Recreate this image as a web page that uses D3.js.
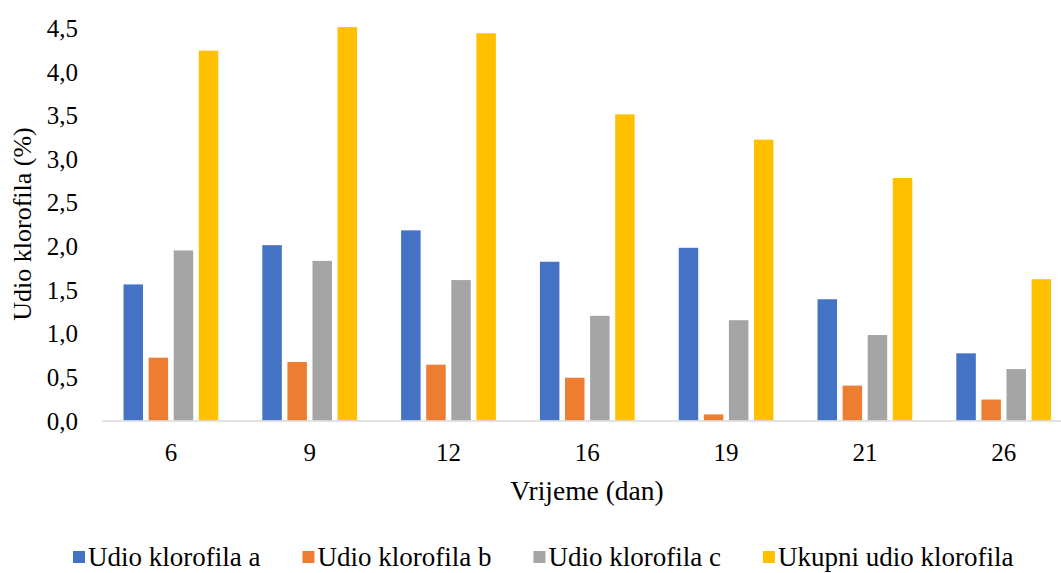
<!DOCTYPE html>
<html>
<head>
<meta charset="utf-8">
<script src="https://cdn.jsdelivr.net/npm/d3@7"></script>
<style>
  html, body { margin: 0; padding: 0; background: #fff; }
  svg { display: block; }
  text { font-family: "Liberation Serif", "Times New Roman", serif; fill: #000; }
</style>
</head>
<body>
<svg id="chart" width="1061" height="573"></svg>
<script>
const days = ["6", "9", "12", "16", "19", "21", "26"];
const seriesNames = ["Udio klorofila a", "Udio klorofila b", "Udio klorofila c", "Ukupni udio klorofila"];
const seriesColors = ["#4472C4", "#ED7D31", "#A5A5A5", "#FFC000"];
const klorofilA = [1.56, 2.01, 2.18, 1.82, 1.98, 1.39, 0.77];
const klorofilB = [0.72, 0.67, 0.64, 0.49, 0.07, 0.40, 0.24];
const klorofilC = [1.95, 1.83, 1.61, 1.20, 1.15, 0.98, 0.59];
const ukupni = [4.24, 4.51, 4.44, 3.51, 3.22, 2.78, 1.62];
const yTicks = [0, 0.5, 1.0, 1.5, 2.0, 2.5, 3.0, 3.5, 4.0, 4.5];
const xTitle = "Vrijeme (dan)";
const yTitle = "Udio klorofila (%)";

const seriesValues = [klorofilA, klorofilB, klorofilC, ukupni];

const svg = d3.select("#chart");

const x0 = d3.scaleBand()
  .domain(days)
  .range([101.5, 101.5 + 7 * 138.8])
  .paddingInner(0.277)
  .paddingOuter(0.1385);

const x1 = d3.scaleBand()
  .domain(d3.range(seriesNames.length))
  .range([0, x0.bandwidth()])
  .paddingInner(0.223)
  .paddingOuter(0.1115);

const y = d3.scaleLinear().domain([0, 4.5]).range([420.5, 28]);

const fmt = v => d3.format(".1f")(v).replace(".", ",");

// Y axis labels
const yAxis = d3.axisLeft(y).tickValues(yTicks).tickFormat(fmt).tickSize(0).tickPadding(0);
const yg = svg.append("g").attr("transform", "translate(78,0)").call(yAxis);
yg.select(".domain").remove();
yg.selectAll("text")
  .attr("font-family", "Liberation Serif, serif")
  .attr("font-size", 25)
  .attr("fill", "#000")
  .attr("dy", "0.34em");

// Bars
const groups = svg.append("g").selectAll("g")
  .data(days)
  .join("g")
  .attr("transform", d => `translate(${x0(d)},0)`);

groups.selectAll("rect")
  .data((d, i) => seriesValues.map((vals, s) => ({ s, v: vals[i] })))
  .join("rect")
  .attr("x", d => x1(d.s))
  .attr("width", x1.bandwidth())
  .attr("y", d => y(d.v))
  .attr("height", d => y(0) - y(d.v))
  .attr("fill", d => seriesColors[d.s]);

// X axis
const xAxis = d3.axisBottom(x0).tickSize(0).tickPadding(0);
const xg = svg.append("g").attr("transform", `translate(0,${y(0)})`).call(xAxis);
xg.select(".domain").attr("stroke", "#D9D9D9").attr("stroke-width", 1.5);
xg.selectAll("text")
  .attr("font-family", "Liberation Serif, serif")
  .attr("font-size", 25)
  .attr("fill", "#000")
  .attr("dy", 0)
  .attr("y", 40);

// Axis titles
svg.append("text")
  .attr("x", 587)
  .attr("y", 500)
  .attr("text-anchor", "middle")
  .attr("font-size", 27.5)
  .text(xTitle);

svg.append("text")
  .attr("transform", "translate(31,224) rotate(-90)")
  .attr("text-anchor", "middle")
  .attr("font-size", 26)
  .text(yTitle);

// Legend
const legend = svg.append("g").attr("transform", "translate(73,0)");
let lx = 0;
seriesNames.forEach((name, i) => {
  const g = legend.append("g").attr("transform", `translate(${lx},0)`);
  g.append("rect").attr("x", 0).attr("y", 551).attr("width", 12).attr("height", 12).attr("fill", seriesColors[i]);
  const t = g.append("text").attr("x", 15).attr("y", 566).attr("font-size", 27).text(name);
  lx += 15 + t.node().getComputedTextLength() + 42;
});
</script>
</body>
</html>
